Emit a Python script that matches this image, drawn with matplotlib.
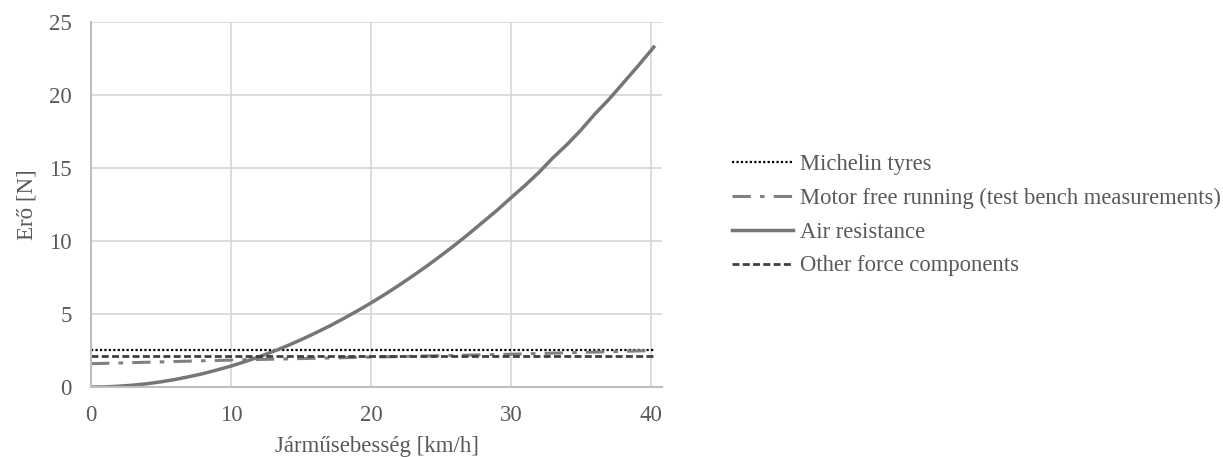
import matplotlib.pyplot as plt

plt.rcParams['font.family'] = ['Liberation Serif', 'DejaVu Serif']

# speeds [km/h] and forces [N]
speed = list(range(0, 41)) + [40.2]
air = [0.0, 0.01, 0.06, 0.13, 0.23, 0.36, 0.52, 0.71, 0.92, 1.17, 1.44,
       1.74, 2.07, 2.43, 2.82, 3.24, 3.69, 4.16, 4.67, 5.20, 5.76,
       6.35, 6.97, 7.62, 8.29, 9.00, 9.73, 10.5, 11.3, 12.1, 12.96,
       13.8, 14.7, 15.7, 16.6, 17.6, 18.7, 19.7, 20.8, 21.9, 23.04, 23.28]
motor_speed = [0, 10, 20, 30, 40.2]
motor = [1.6, 1.85, 2.05, 2.25, 2.5]
michelin_speed = [0, 40.2]
michelin = [2.53, 2.53]
other_speed = [0, 40.2]
other = [2.12, 2.12]

labels = ["Michelin tyres", "Motor free running (test bench measurements)",
          "Air resistance", "Other force components"]

fig = plt.figure(figsize=(12.23, 4.57), dpi=100)
ax = fig.add_axes([0.0744, 0.153, 0.467, 0.799])

ax.plot(michelin_speed, michelin, color='black', linestyle=(0, (1, 1)), lw=1.6, label=labels[0])
ax.plot(motor_speed, motor, color='#808080', linestyle=(0, (6, 3, 1.5, 3)), lw=2.2, label=labels[1])
ax.plot(speed, air, color='#767676', lw=2.5, label=labels[2])
ax.plot(other_speed, other, color='#404040', linestyle=(0, (2.5, 1.2)), lw=2.0, label=labels[3])

ax.set_xlim(0, 40.8)
ax.set_ylim(0, 25)
ax.set_xticks([0, 10, 20, 30, 40])
ax.set_yticks([0, 5, 10, 15, 20, 25])
ax.grid(True, color='#d9d9d9', lw=1.3)
ax.set_axisbelow(True)
for s in ['top', 'right']:
    ax.spines[s].set_visible(False)
for s in ['left', 'bottom']:
    ax.spines[s].set_color('#bfbfbf')
    ax.spines[s].set_linewidth(1.5)
ax.tick_params(length=0, labelsize=16.5, labelcolor='#595959')
ax.tick_params(axis='x', pad=13)
ax.tick_params(axis='y', pad=14)

ax.set_xlabel("Járműsebesség [km/h]", fontsize=16.5, color='#595959', labelpad=7)
ax.set_ylabel("Erő [N]", fontsize=16.5, color='#595959', labelpad=8)

fig.legend(loc='center left', bbox_to_anchor=(721 / 1223, 1 - 215 / 457),
           frameon=False, fontsize=16.3, labelcolor='#595959',
           handlelength=2.7, handletextpad=0.3, labelspacing=0.57, borderpad=0)

fig.savefig('out.png', dpi=100)
